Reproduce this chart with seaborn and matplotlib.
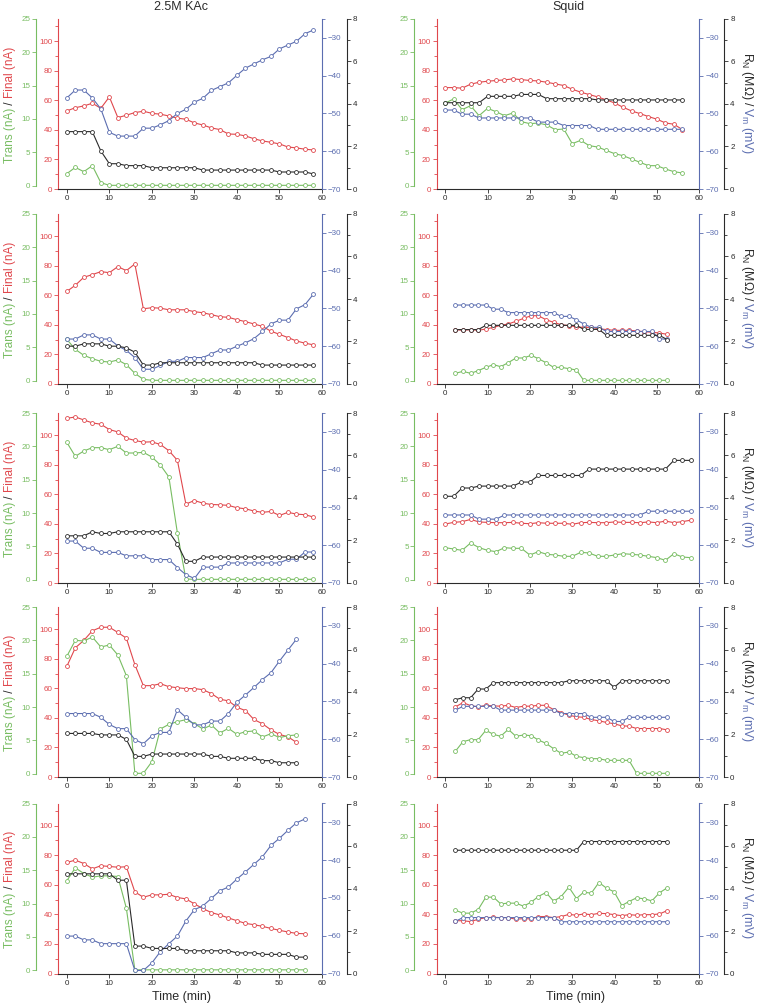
import matplotlib
matplotlib.use("Agg")
import matplotlib.pyplot as plt
import seaborn as sns

sns.set_style("ticks")
plt.rcParams['font.family'] = ['Liberation Sans', 'DejaVu Sans']

GREEN = '#78bd62'
RED = '#e0474c'
BLUE = '#5b6db0'
BLACK = '#2b2b2b'

# time stamps (min)
t58 = [0, 2, 4, 6, 8, 10, 12, 14, 16, 18, 20, 22, 24, 26, 28, 30, 32, 34, 36, 38,
       40, 42, 44, 46, 48, 50, 52, 54, 56, 58]
t56 = t58[:29]
t54 = t58[:28]
squid_t = [2.4, 4.2, 6.0, 7.8, 9.6, 11.4, 13.1, 14.9, 16.7, 18.5, 20.3, 22.0, 23.8,
           25.6, 27.4, 29.2, 31.0, 32.7, 34.5, 36.3, 38.1, 39.9, 41.7, 43.4, 45.2,
           47.0, 48.8, 50.6, 52.4]

# ---- 2.5M KAc, row 1
kac1_trans = [1.8, 2.74, 2.1, 3.0, 0.45] + [0.05] * 25
kac1_final = [52.8, 55.0, 56.2, 58.0, 54.6, 62.3, 48.3, 49.9, 51.7, 52.6, 51.2, 50.6, 49.4,
              47.9, 47.2, 44.7, 43.3, 41.3, 40.2, 37.2, 37.0, 35.9, 34.0, 32.5, 31.6, 30.5,
              28.4, 27.8, 26.9, 26.4]
kac1_vm = [-45.9, -43.8, -43.8, -45.9, -48.8, -55.0, -56.0, -56.0, -56.0, -53.9, -53.9, -53.0,
           -51.9, -50.0, -48.9, -47.0, -46.0, -43.9, -42.9, -41.9, -39.9, -38.0, -36.9, -35.8,
           -34.9, -32.9, -31.9, -30.9, -28.9, -27.9]
kac1_rn = [2.7] * 4 + [1.79, 1.19, 1.19, 1.1, 1.1, 1.1] + [1.0] * 6 + [0.89] * 9 + [0.8] * 4 + [0.71]

# ---- Squid, row 1
sq1_trans = [12.4, 13.0, 11.4, 12.0, 10.5, 11.6, 11.1, 10.5, 10.9, 9.6, 9.3, 9.4, 9.1, 8.4, 8.5,
             6.3, 6.8, 6.0, 5.8, 5.3, 4.8, 4.5, 4.0, 3.5, 3.0, 3.0, 2.5, 2.1, 1.9]
sq1_final = [68.6, 68.6, 68.2, 70.9, 72.2, 72.9, 73.4, 73.8, 74.5, 74.0, 73.4, 73.1, 72.2, 71.1,
             70.0, 67.5, 65.5, 63.9, 62.3, 60.3, 58.2, 55.3, 52.8, 51.0, 49.0, 47.2, 44.7, 43.8, 40.2]
sq1_vm = [-49.1] * 2 + [-50.2] * 2 + [-51.2] * 7 + [-52.3] * 3 + [-53.2] * 4 + [-54.2] * 11
sq1_rn = [4.06] * 5 + [4.36] * 4 + [4.45] * 3 + [4.25] * 6 + [4.19] * 11

# ---- 2.5M KAc, row 2
kac2_trans = [6.2, 4.7, 3.8, 3.3, 2.9, 2.8, 3.1, 2.4, 1.1, 0.2] + [0.05] * 20
kac2_final = [62.6, 66.8, 72.2, 74.0, 76.0, 75.3, 79.4, 76.7, 81.2, 50.9, 51.6, 51.3, 50.2, 50.2,
              50.2, 48.9, 48.2, 46.9, 45.5, 45.1, 43.5, 42.2, 40.6, 39.0, 35.7, 33.6, 31.4, 29.1,
              27.6, 26.5]
kac2_vm = [-58.1, -58.1, -57.0, -57.0, -58.1, -58.1, -59.9, -61.1, -63.0, -66.1, -66.1, -65.1,
           -64.0, -64.0, -63.0, -63.0, -63.0, -62.0, -61.0, -61.0, -60.0, -59.1, -58.0, -56.1,
           -54.1, -53.1, -53.1, -50.1, -49.0, -46.2]
kac2_rn = [1.78, 1.78, 1.89, 1.89, 1.89, 1.78, 1.78, 1.70, 1.50, 0.89, 0.89] + [1.0] * 12 + [0.89] * 7

# ---- Squid, row 2
sq2_trans = [1.1, 1.4, 1.1, 1.5, 2.0, 2.4, 2.1, 2.7, 3.4, 3.4, 3.8, 3.3, 2.7, 2.0, 2.0, 1.8,
             1.6] + [0.05] * 12
sq2_final = [36.8, 36.3, 36.8, 36.3, 37.2, 38.3, 39.7, 40.6, 42.4, 44.4, 46.2, 46.2, 43.5, 41.7,
             40.1, 39.5, 38.6, 38.3, 38.3, 37.4, 36.8, 36.3, 36.3, 36.3, 35.9, 35.4, 35.0, 34.5, 33.6]
sq2_vm = ([-49.1] * 5 + [-50.2] * 2 + [-51.1] * 7 + [-52.1] * 2 + [-53.0, -54.1, -55.0, -55.0]
          + [-56.1] * 7 + [-58.0, -58.2])
sq2_rn = [2.56] * 4 + [2.76] * 13 + [2.57] * 3 + [2.29] * 8 + [2.09]

# ---- 2.5M KAc, row 3
kac3_trans = [20.6, 18.5, 19.3, 19.8, 19.8, 19.5, 20.0, 19.0, 19.0, 19.1, 18.4, 17.2, 15.4, 7.0,
              0.1] + [0.05] * 15
kac3_final = [111.4, 112.3, 110.3, 108.3, 107.4, 103.8, 102.2, 98.0, 96.4, 95.3, 95.5, 93.7, 89.5,
              83.0, 53.4, 55.8, 54.0, 53.1, 52.9, 52.5, 50.9, 50.2, 48.7, 47.8, 48.4, 45.7, 47.8,
              46.6, 46.2, 44.6]
kac3_vm = ([-58.9, -58.9, -60.8, -60.8, -61.9, -61.9, -61.9, -62.8, -62.8, -62.8, -63.8, -63.8,
            -63.8, -65.9, -67.8, -68.8, -65.8, -65.8, -65.8] + [-64.7] * 7
           + [-63.7, -63.7, -61.8, -61.8])
kac3_rn = [2.22, 2.22, 2.22, 2.41, 2.33, 2.33] + [2.41] * 7 + [1.83, 1.02, 1.02] + [1.22] * 14

# ---- Squid, row 3
sq3_trans = [4.8, 4.6, 4.4, 5.5, 4.8, 4.4, 4.2, 4.8, 4.7, 4.7, 3.7, 4.2, 3.8, 3.7, 3.5, 3.5, 4.1,
             4.0, 3.5, 3.5, 3.7, 3.9, 3.8, 3.7, 3.5, 3.3, 2.9, 3.9, 3.4, 3.3]
sq3_final = [39.9, 41.0, 41.5, 43.0, 41.3, 41.0, 40.8, 40.8, 41.0, 40.4, 40.1, 40.8, 40.4, 40.4,
             40.4, 39.7, 40.8, 41.0, 40.8, 40.8, 41.3, 41.0, 41.0, 40.8, 41.3, 40.8, 41.9, 40.8,
             41.5, 42.5]
sq3_vm = [-52.0] * 4 + [-53.1] * 3 + [-52.0] * 17 + [-51.0] * 6
sq3_rn = [4.08] * 2 + [4.47] * 2 + [4.56] * 5 + [4.75] * 2 + [5.06] * 6 + [5.36] * 10 + [5.77] * 3

# ---- 2.5M KAc, row 4
kac4_trans = [17.6, 20.0, 19.9, 20.5, 19.0, 19.3, 17.8, 14.7, 0.05, 0.05, 1.8, 6.7, 7.4, 7.8, 8.1,
              7.5, 6.7, 7.3, 6.1, 6.8, 5.9, 6.3, 6.4, 5.5, 6.0, 5.4, 5.7, 5.8]
kac4_final = [74.8, 87.4, 92.4, 98.9, 101.3, 101.3, 97.8, 93.9, 76.0, 61.8, 61.8, 63.1, 61.1, 60.4,
              59.8, 59.8, 59.1, 56.4, 52.6, 51.5, 47.2, 44.9, 38.9, 36.0, 31.9, 28.8, 27.2, 23.4]
kac4_vm = [-53.2, -53.2, -53.2, -53.2, -54.2, -56.1, -57.2, -57.2, -60.1, -61.2, -59.1, -58.2,
           -58.2, -52.2, -54.2, -56.2, -56.2, -55.2, -55.2, -53.2, -50.2, -48.3, -46.3, -44.2,
           -42.4, -39.3, -36.4, -33.5]
kac4_rn = ([2.05] * 4 + [1.98] * 3 + [1.77, 0.97, 0.97] + [1.08] * 7 + [0.97] * 2 + [0.88] * 4
           + [0.77] * 2 + [0.67] * 3)

# ---- Squid, row 4
sq4_trans = [3.35, 4.8, 5.1, 5.1, 6.5, 5.9, 5.6, 6.65, 5.6, 5.8, 5.7, 5.05, 4.55, 3.75, 3.05, 3.25,
             2.6, 2.4, 2.25, 2.25, 2.0, 2.0, 2.0, 2.0] + [0.05] * 5
sq4_final = [47.4, 50.3, 48.3, 47.4, 48.5, 48.1, 47.9, 48.5, 47.0, 47.9, 47.9, 48.5, 48.5, 45.6,
             43.6, 41.8, 40.7, 40.4, 38.9, 38.0, 36.9, 36.0, 34.6, 34.4, 32.8, 32.8, 32.8, 32.8, 31.9]
sq4_vm = ([-52.3] + [-51.3] * 5 + [-52.3] * 8 + [-53.2] * 4 + [-54.2] * 3 + [-55.3] * 2
          + [-54.2] * 6)
sq4_rn = [3.64, 3.73, 3.73, 4.14, 4.14] + [4.44] * 10 + [4.53] * 6 + [4.22] + [4.53] * 7

# ---- 2.5M KAc, row 5
kac5_trans = [13.4, 15.35, 14.5, 13.95, 14.15, 14.15, 14.05, 9.3] + [0.05] * 21
kac5_final = [75.1, 76.7, 74.4, 70.8, 72.9, 72.4, 71.9, 72.2, 55.2, 51.6, 53.2, 53.2, 53.6, 51.4,
              50.5, 47.1, 43.9, 41.2, 39.6, 37.6, 35.7, 33.9, 33.0, 31.9, 30.5, 29.2, 28.1, 27.1, 26.9]
kac5_vm = [-60.1, -60.1, -61.1, -61.1, -62.1, -62.1, -62.1, -62.1, -69.2, -69.2, -67.2, -64.2,
           -62.1, -60.1, -56.1, -53.1, -52.1, -50.1, -48.1, -47.1, -45.0, -43.1, -41.1, -39.1,
           -36.1, -34.2, -32.1, -30.1, -29.1]
kac5_rn = ([4.69] * 6 + [4.39] * 2 + [1.29] * 2 + [1.18] * 4 + [1.07] * 6 + [0.97] * 3
           + [0.9] * 4 + [0.77] * 2)

# ---- Squid, row 5
sq5_trans = [9.0, 8.55, 8.55, 9.1, 10.95, 10.95, 9.95, 10.05, 10.05, 9.6, 10.2, 11.05, 11.65,
             10.35, 11.05, 12.45, 10.75, 11.7, 11.55, 13.15, 12.3, 11.75, 9.7, 10.3, 10.85, 10.7,
             10.4, 11.6, 12.35]
sq5_final = [35.7, 35.7, 35.1, 36.7, 37.8, 38.0, 37.8, 37.8, 36.7, 37.1, 36.9, 38.5, 38.5, 37.8,
             38.5, 40.0, 39.4, 40.3, 39.8, 40.7, 40.5, 39.8, 39.1, 39.8, 39.4, 39.8, 39.8, 40.3, 42.5]
sq5_vm = [-56.2] + [-55.2] * 13 + [-56.3] * 15
sq5_rn = [5.8] * 17 + [6.21] * 12

kac_panels = [
    (t58, kac1_trans, kac1_final, kac1_vm, kac1_rn),
    (t58, kac2_trans, kac2_final, kac2_vm, kac2_rn),
    (t58, kac3_trans, kac3_final, kac3_vm, kac3_rn),
    (t54, kac4_trans, kac4_final, kac4_vm, kac4_rn),
    (t56, kac5_trans, kac5_final, kac5_vm, kac5_rn),
]
squid_panels = [
    (t56, sq1_trans, sq1_final, sq1_vm, sq1_rn),
    (squid_t, sq2_trans, sq2_final, sq2_vm, sq2_rn),
    (t58, sq3_trans, sq3_final, sq3_vm, sq3_rn),
    (squid_t, sq4_trans, sq4_final, sq4_vm, sq4_rn),
    (squid_t, sq5_trans, sq5_final, sq5_vm, sq5_rn),
]

W, H = 758, 1005
fig = plt.figure(figsize=(W / 100, H / 100), dpi=100)

row_tops = [19, 214, 413, 607, 803.5]
panel_h = 170
col_left = [58.3, 436.7]
col_w = [263.7, 262.6]

TICK_FS = 5.8


def style_axis(a, color, side):
    for s in a.spines.values():
        s.set_visible(False)
    a.spines[side].set_visible(True)
    a.spines[side].set_color(color)
    a.spines[side].set_linewidth(0.8)
    a.tick_params(axis='y', which='both', colors=color, labelcolor=color,
                  labelsize=TICK_FS, width=0.6, pad=1.2, direction='out')
    a.tick_params(axis='y', which='major', length=3)
    a.tick_params(axis='y', which='minor', length=2)


def line(a, t, vals, color):
    sns.lineplot(x=t, y=vals, ax=a, color=color, marker='o', markersize=2.8,
                 markerfacecolor='white', markeredgecolor=color, markeredgewidth=0.6,
                 linewidth=0.8, legend=False)


def draw_panel(rect, t, trans, final, vm, rn):
    ax = fig.add_axes(rect)
    ax_g = ax.twinx()
    ax_b = ax.twinx()
    ax_k = ax.twinx()

    line(ax_g, t, trans, GREEN)
    line(ax, t, final, RED)
    line(ax_b, t, vm, BLUE)
    line(ax_k, t, rn, BLACK)

    # red (final current), main axis
    style_axis(ax, RED, 'left')
    ax.spines['bottom'].set_visible(True)
    ax.spines['bottom'].set_color(BLACK)
    ax.spines['bottom'].set_linewidth(0.8)
    ax.set_ylim(0, 115)
    ax.set_yticks([0, 20, 40, 60, 80, 100])
    ax.set_yticks([10, 30, 50, 70, 90, 110], minor=True)
    ax.set_xlim(-2, 60)
    ax.set_xticks([0, 10, 20, 30, 40, 50, 60])
    ax.tick_params(axis='x', colors=BLACK, labelsize=TICK_FS, length=3, width=0.6, pad=1.5)
    ax.set_xlabel('')
    ax.set_ylabel('')

    # green (transient current)
    style_axis(ax_g, GREEN, 'left')
    ax_g.yaxis.tick_left()
    ax_g.spines['left'].set_position(('outward', 16))
    ax_g.spines['left'].set_bounds(0, 25)
    ax_g.set_ylim(-0.5, 25)
    ax_g.set_yticks([0, 5, 10, 15, 20, 25])
    ax_g.set_ylabel('')

    # blue (membrane potential)
    style_axis(ax_b, BLUE, 'right')
    ax_b.set_ylim(-70, -25)
    ax_b.set_yticks([-70, -60, -50, -40, -30])
    ax_b.set_yticks([-25], minor=True)
    ax_b.set_ylabel('')

    # black (input resistance)
    style_axis(ax_k, BLACK, 'right')
    ax_k.spines['right'].set_position(('outward', 18))
    ax_k.set_ylim(0, 8)
    ax_k.set_yticks([0, 2, 4, 6, 8])
    ax_k.set_yticks([1, 3, 5, 7], minor=True)
    ax_k.set_ylabel('')
    return ax


for col, panels in enumerate([kac_panels, squid_panels]):
    for row, (t, trans, final, vm, rn) in enumerate(panels):
        top = row_tops[row]
        rect = [col_left[col] / W, 1 - (top + panel_h) / H, col_w[col] / W, panel_h / H]
        ax = draw_panel(rect, t, trans, final, vm, rn)

        if col == 0:
            t1 = fig.text(10 / W, 1 - (top + 144) / H, 'Trans (nA)', color=GREEN,
                          rotation=90, ha='center', va='bottom', fontsize=8.5)
            t2 = ax.annotate(' / ', xy=(0.5, 1), xycoords=t1, color=BLACK, rotation=90,
                             ha='center', va='bottom', fontsize=8.5)
            ax.annotate('Final (nA)', xy=(0.5, 1), xycoords=t2, color=RED, rotation=90,
                        ha='center', va='bottom', fontsize=8.5)
        else:
            r1 = fig.text(747 / W, 1 - (top + 33) / H, r'R$_\mathregular{N}$ (MΩ) / ',
                          color=BLACK, rotation=270, ha='center', va='top', fontsize=8.8)
            ax.annotate(r'V$_\mathregular{m}$ (mV)', xy=(0.5, 0), xycoords=r1, color=BLUE,
                        rotation=270, ha='center', va='top', fontsize=8.8)

fig.text(181 / W, 1 - 7 / H, '2.5M KAc', ha='center', va='center', fontsize=9, color=BLACK)
fig.text(568 / W, 1 - 7 / H, 'Squid', ha='center', va='center', fontsize=9, color=BLACK)
fig.text(182 / W, 1 - 997 / H, 'Time (min)', ha='center', va='center', fontsize=9, color=BLACK)
fig.text(576 / W, 1 - 997 / H, 'Time (min)', ha='center', va='center', fontsize=9, color=BLACK)

fig.savefig('out.png', dpi=100)
